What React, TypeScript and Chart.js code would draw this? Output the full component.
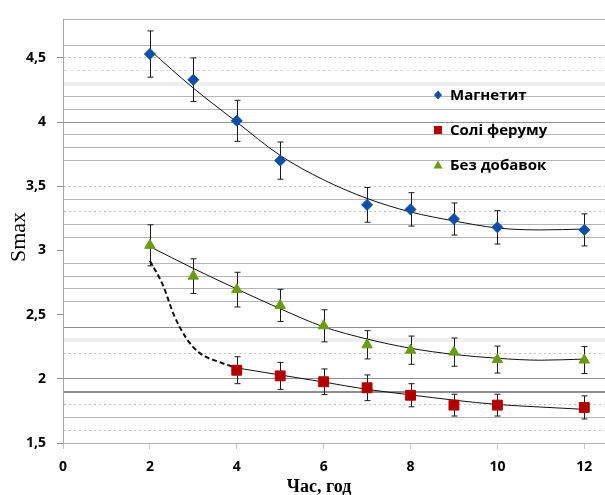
import React, { useEffect, useRef } from 'react';
import { Chart, registerables } from 'chart.js';

Chart.register(...registerables);

// ---------- Data ----------
const magnetiteHours = [2, 3, 4, 5, 7, 8, 9, 10, 12];
const magnetite = [4.53, 4.33, 4.01, 3.7, 3.355, 3.32, 3.245, 3.18, 3.16];
const magnetiteErr = [0.18, 0.17, 0.16, 0.145, 0.135, 0.13, 0.125, 0.13, 0.125];

const saltHours = [4, 5, 6, 7, 8, 9, 10, 12];
const salts = [2.067, 2.023, 1.977, 1.93, 1.872, 1.795, 1.795, 1.777];
const saltsErr = [0.105, 0.105, 0.1, 0.1, 0.09, 0.085, 0.085, 0.09];

const plainHours = [2, 3, 4, 5, 6, 7, 8, 9, 10, 12];
const plain = [3.04, 2.8, 2.695, 2.572, 2.413, 2.265, 2.223, 2.208, 2.15, 2.146];
const plainErr = [0.16, 0.135, 0.135, 0.125, 0.125, 0.11, 0.11, 0.11, 0.105, 0.105];

// trend lines
const trendHours = [2, 3, 4, 5, 6, 7, 8, 9, 10, 11, 12];
const magnetiteTrend = [4.56, 4.265, 4.0, 3.74, 3.55, 3.405, 3.3, 3.23, 3.175, 3.16, 3.167];
const plainTrend = [3.03, 2.86, 2.7, 2.546, 2.405, 2.31, 2.238, 2.19, 2.16, 2.145, 2.154];
const saltTrendHours = [4, 5, 6, 7, 8, 9, 10, 11, 12];
const saltTrend = [2.085, 2.03, 1.975, 1.918, 1.875, 1.834, 1.8, 1.78, 1.762];
const saltDashHours = [2, 2.3, 2.55, 2.85, 3.15, 3.6, 4];
const saltDash = [2.92, 2.73, 2.5, 2.31, 2.2, 2.13, 2.085];

const seriesNames = ['Магнетит', 'Солі феруму', 'Без добавок'];
const xTitle = 'Час, год';
const yTitle = 'Smax';

// ---------- Styles ----------
const BLUE = '#0f4fa6';
const RED = '#b00000';
const GREEN = '#6a9a16';

const darkLines = ['4.0', '2.4', '2.0', '1.9'];
const dottedLines = ['4.5', '3.5', '3.3', '2.2', '1.8', '1.6'];
const bandLines = ['4.3', '2.3'];
const faintLines = ['4.4'];
const hiddenLines = ['4.7', '3.6', '3.0', '2.5', '2.1'];

const keyOf = (v: number) => v.toFixed(1);
const isHalf = (v: number) => Math.abs(v * 2 - Math.round(v * 2)) < 1e-6;

const pts = (xs: number[], ys: number[]) => xs.map((x, i) => ({ x, y: ys[i] }));

const errorBarsPlugin = {
  id: 'errorBars',
  beforeDatasetsDraw(chart: any) {
    const { ctx, scales } = chart;
    const xs = scales.x;
    const ys = scales.y;
    const groups = [
      [magnetiteHours, magnetite, magnetiteErr],
      [saltHours, salts, saltsErr],
      [plainHours, plain, plainErr],
    ] as number[][][];
    ctx.save();
    ctx.strokeStyle = '#1a1a1a';
    ctx.lineWidth = 1;
    groups.forEach(([hx, hy, he]) => {
      hx.forEach((x, i) => {
        const px = Math.round(xs.getPixelForValue(x)) + 0.5;
        const top = ys.getPixelForValue(hy[i] + he[i]);
        const bot = ys.getPixelForValue(hy[i] - he[i]);
        ctx.beginPath();
        ctx.moveTo(px, top);
        ctx.lineTo(px, bot);
        ctx.moveTo(px - 3, top);
        ctx.lineTo(px + 3, top);
        ctx.moveTo(px - 3, bot);
        ctx.lineTo(px + 3, bot);
        ctx.stroke();
      });
    });
    ctx.restore();
  },
};

const titlesPlugin = {
  id: 'axisTitles',
  afterDraw(chart: any) {
    const { ctx } = chart;
    ctx.save();
    ctx.fillStyle = '#000';
    ctx.textAlign = 'center';
    ctx.textBaseline = 'middle';
    ctx.font = 'bold 18px "Liberation Serif"';
    ctx.fillText(xTitle, 319, 487);
    ctx.translate(19, 237);
    ctx.rotate(-Math.PI / 2);
    ctx.font = '22px "Liberation Serif"';
    ctx.fillText(yTitle, 0, 0);
    ctx.restore();
  },
};

const legendPlugin = {
  id: 'customLegend',
  afterDraw(chart: any) {
    const { ctx } = chart;
    const colors = [BLUE, RED, GREEN];
    const ys = [95, 130, 165];
    const mx = 438;
    ctx.save();
    seriesNames.forEach((name, i) => {
      const y = ys[i];
      ctx.fillStyle = colors[i];
      ctx.beginPath();
      if (i === 0) {
        ctx.moveTo(mx, y - 4.5);
        ctx.lineTo(mx + 4, y);
        ctx.lineTo(mx, y + 4.5);
        ctx.lineTo(mx - 4, y);
        ctx.closePath();
      } else if (i === 1) {
        ctx.rect(mx - 4, y - 4, 8, 8);
      } else {
        ctx.moveTo(mx, y - 4.5);
        ctx.lineTo(mx + 4.5, y + 3.5);
        ctx.lineTo(mx - 4.5, y + 3.5);
        ctx.closePath();
      }
      ctx.fill();
      ctx.fillStyle = '#000';
      ctx.font = 'bold 15px "Open Sans"';
      ctx.textBaseline = 'middle';
      ctx.textAlign = 'left';
      ctx.fillText(name, mx + 12, y + 1);
    });
    ctx.restore();
  },
};

export default function App() {
  const ref = useRef<HTMLCanvasElement | null>(null);

  useEffect(() => {
    document.body.style.margin = '0';
    if (!ref.current) return;
    const chart = new Chart(ref.current, {
      type: 'scatter',
      data: {
        datasets: [
          {
            label: seriesNames[0],
            data: pts(magnetiteHours, magnetite),
            backgroundColor: BLUE,
            borderColor: BLUE,
            pointStyle: 'rectRot',
            pointRadius: 5.5,
            showLine: false,
          },
          {
            label: seriesNames[1],
            data: pts(saltHours, salts),
            backgroundColor: RED,
            borderColor: RED,
            pointStyle: 'rect',
            pointRadius: 7,
            showLine: false,
          },
          {
            label: seriesNames[2],
            data: pts(plainHours, plain),
            backgroundColor: GREEN,
            borderColor: GREEN,
            pointStyle: 'triangle',
            pointRadius: 6,
            showLine: false,
          },
          {
            label: 'trend1',
            data: pts(trendHours, magnetiteTrend),
            borderColor: '#111',
            borderWidth: 1,
            pointRadius: 0,
            showLine: true,
            cubicInterpolationMode: 'monotone',
          },
          {
            label: 'trend2',
            data: pts(saltTrendHours, saltTrend),
            borderColor: '#111',
            borderWidth: 1,
            pointRadius: 0,
            showLine: true,
            cubicInterpolationMode: 'monotone',
          },
          {
            label: 'trend2dash',
            data: pts(saltDashHours, saltDash),
            borderColor: '#111',
            borderWidth: 2,
            borderDash: [5, 3],
            pointRadius: 0,
            showLine: true,
            cubicInterpolationMode: 'monotone',
          },
          {
            label: 'trend3',
            data: pts(trendHours, plainTrend),
            borderColor: '#111',
            borderWidth: 1,
            pointRadius: 0,
            showLine: true,
            cubicInterpolationMode: 'monotone',
          },
        ] as any,
      },
      options: {
        animation: false,
        responsive: false,
        events: [],
        layout: { padding: { top: 14, right: 0, left: 0, bottom: 0 } },
        plugins: {
          legend: { display: false },
          tooltip: { enabled: false },
        },
        scales: {
          x: {
            type: 'linear',
            min: 0,
            max: 12.5,
            afterFit: (s: any) => {
              s.height = 52;
            },
            ticks: {
              stepSize: 2,
              includeBounds: false,
              autoSkip: false,
              maxRotation: 0,
              padding: 10,
              color: '#000',
              font: { family: '"Open Sans"', size: 14, weight: 'bold' },
              callback: (v: any) => (Number(v) % 2 === 0 ? String(v) : ''),
            },
            grid: {
              drawOnChartArea: false,
              drawTicks: true,
              tickLength: 6,
              tickColor: '#c8c8c8',
            },
            border: { display: false },
            title: { display: false },
          },
          y: {
            type: 'linear',
            min: 1.5,
            max: 4.8,
            afterFit: (s: any) => {
              s.width = 63;
            },
            ticks: {
              stepSize: 0.1,
              autoSkip: false,
              padding: 11,
              color: '#000',
              font: { family: '"Open Sans"', size: 14, weight: 'bold' },
              callback: (v: any) => {
                const n = Number(v);
                if (!isHalf(n) || n > 4.75) return '';
                return String(n).replace('.', ',');
              },
            },
            grid: {
              drawTicks: true,
              tickLength: 6,
              tickColor: (c: any) => (c.tick && isHalf(c.tick.value) && c.tick.value < 4.75 ? '#8c8c8c' : 'rgba(0,0,0,0)'),
              tickWidth: 1,
              color: (c: any) => {
                if (!c.tick) return '#a0a0a0';
                const k = keyOf(c.tick.value);
                if (hiddenLines.includes(k)) return 'rgba(0,0,0,0)';
                if (darkLines.includes(k)) return '#8f8f8f';
                if (dottedLines.includes(k)) return '#c4c4c4';
                if (bandLines.includes(k)) return '#eeeeee';
                if (faintLines.includes(k)) return '#dcdcdc';
                return '#b4b4b4';
              },
              lineWidth: (c: any) => {
                if (!c.tick) return 1;
                const k = keyOf(c.tick.value);
                if (bandLines.includes(k)) return 4;
                if (k === '1.9') return 2;
                return 1;
              },
            },
            border: {
              display: true,
              color: '#a8a8a8',
              width: 1,
              dash: (c: any) => {
                if (!c.tick) return [];
                const k = keyOf(c.tick.value);
                if (dottedLines.includes(k)) return [2, 3];
                if (faintLines.includes(k)) return [4, 2];
                return [];
              },
            } as any,
            title: { display: false },
          },
        },
      } as any,
      plugins: [errorBarsPlugin, legendPlugin, titlesPlugin],
    });
    return () => chart.destroy();
  }, []);

  return (
    <div style={{ width: 605, height: 495, overflow: 'hidden' }}>
      <canvas ref={ref} width={614} height={495} style={{ display: 'block' }} />
    </div>
  );
}
